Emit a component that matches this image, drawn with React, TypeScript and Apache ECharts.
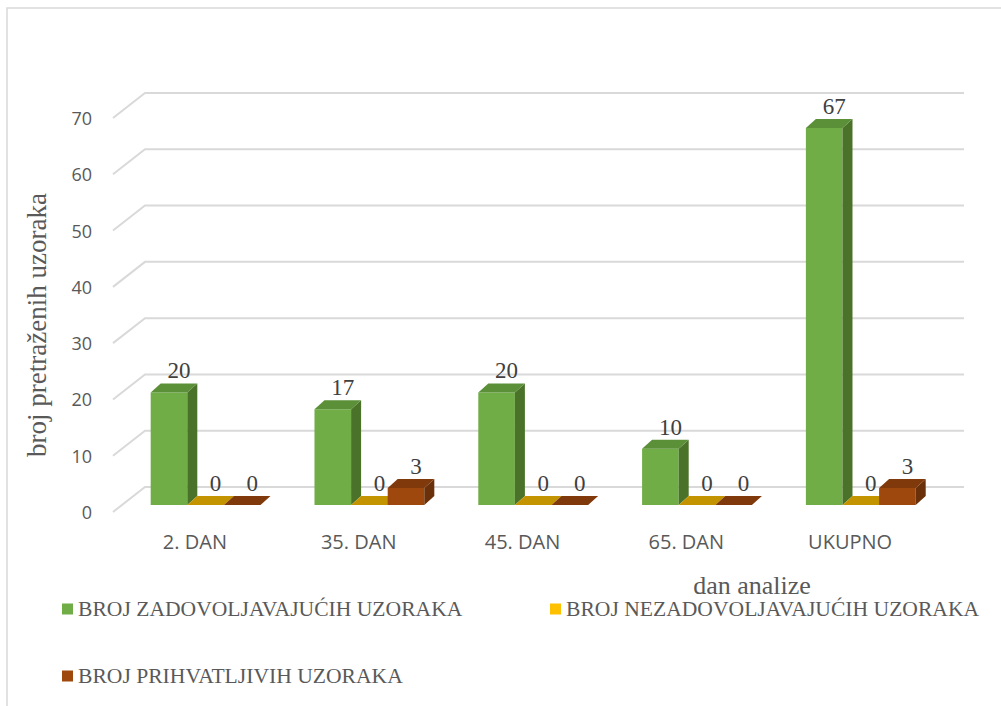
import React, { useEffect, useRef } from "react";
import * as echarts from "echarts";

const categories = ["2. DAN", "35. DAN", "45. DAN", "65. DAN", "UKUPNO"];
const zadovoljavajuci = [20, 17, 20, 10, 67];
const nezadovoljavajuci = [0, 0, 0, 0, 0];
const prihvatljivi = [0, 3, 0, 0, 3];
const yTicks = [0, 10, 20, 30, 40, 50, 60, 70];
const seriesNames = [
  "BROJ ZADOVOLJAVAJUĆIH UZORAKA",
  "BROJ NEZADOVOLJAVAJUĆIH UZORAKA",
  "BROJ PRIHVATLJIVIH UZORAKA",
];
const yTitle = "broj pretraženih uzoraka";
const xTitle = "dan analize";

const palette = [
  { front: "#70AD47", top: "#5B8F38", side: "#4A7229" },
  { front: "#FFC000", top: "#C49300", side: "#A07800" },
  { front: "#9E480E", top: "#80390B", side: "#6A3009" },
];

const SERIF = "Liberation Serif";
const SANS = "Open Sans";

const GRID_DX = 32;
const GRID_DY = -25;
const BAR_SHIFT_X = 10.7;
const BAR_SHIFT_Y = -7;
const DEPTH_X = 10;
const DEPTH_Y = -9;

function barRenderer(sIdx: number) {
  const col = palette[sIdx];
  return (params: any, api: any) => {
    const c = api.value(0);
    const v = api.value(1);
    const p = api.coord([c, v]);
    const b = api.coord([c, 0]);
    const band = api.size([1, 0])[0];
    const bw = band * 0.2235;
    const x0 = p[0] - 1.5 * bw + BAR_SHIFT_X + sIdx * bw;
    const yTop = p[1] + BAR_SHIFT_Y;
    const yBot = b[1] + BAR_SHIFT_Y;
    const children: any[] = [];
    if (yBot - yTop > 0.5) {
      children.push({
        type: "rect",
        shape: { x: x0, y: yTop, width: bw, height: yBot - yTop },
        style: { fill: col.front },
      });
      children.push({
        type: "polygon",
        shape: {
          points: [
            [x0 + bw, yTop],
            [x0 + bw + DEPTH_X, yTop + DEPTH_Y],
            [x0 + bw + DEPTH_X, yBot + DEPTH_Y],
            [x0 + bw, yBot],
          ],
        },
        style: { fill: col.side },
      });
    }
    children.push({
      type: "polygon",
      shape: {
        points: [
          [x0, yTop],
          [x0 + DEPTH_X, yTop + DEPTH_Y],
          [x0 + bw + DEPTH_X, yTop + DEPTH_Y],
          [x0 + bw, yTop],
        ],
      },
      style: { fill: col.top },
    });
    children.push({
      type: "text",
      x: x0 + bw / 2 + 10,
      y: yTop - 10,
      style: {
        text: String(v),
        textAlign: "center",
        textVerticalAlign: "bottom",
        fontFamily: SERIF,
        fontSize: 23,
        fill: "#404040",
      },
    });
    return { type: "group", children };
  };
}

export default function App() {
  const ref = useRef<HTMLDivElement>(null);
  useEffect(() => {
    if (!ref.current) return;
    const chart = echarts.init(ref.current, null, { renderer: "svg" });
    const seriesData = [zadovoljavajuci, nezadovoljavajuci, prihvatljivi];
    const legendPos = [
      { left: 62, top: 598 },
      { left: 550, top: 598 },
      { left: 62, top: 665 },
    ];
    const option: any = {
      animation: false,
      backgroundColor: "#ffffff",
      grid: { left: 113, right: 69, top: 118, bottom: 194 },
      xAxis: {
        type: "category",
        data: categories,
        axisLine: { show: false },
        axisTick: { show: false },
        splitLine: { show: false },
        axisLabel: {
          color: "#595959",
          fontFamily: SANS,
          fontSize: 20,
          margin: 19,
        },
      },
      yAxis: {
        type: "value",
        min: 0,
        max: 70,
        interval: 10,
        axisLine: { show: false },
        axisTick: { show: false },
        splitLine: { show: false },
        axisLabel: {
          color: "#595959",
          fontFamily: SANS,
          fontSize: 18,
          margin: 21,
        },
      },
      legend: seriesNames.map((n, i) => ({
        data: [{ name: n, icon: "rect", itemStyle: { color: palette[i].front } }],
        left: legendPos[i].left,
        top: legendPos[i].top,
        padding: 0,
        itemWidth: 11,
        itemHeight: 11,
        selectedMode: false,
        textStyle: {
          color: "#595959",
          fontFamily: SERIF,
          fontSize: 21.6,
        },
      })),
      graphic: [
        {
          type: "rect",
          shape: { x: 7, y: 8, width: 1200, height: 900 },
          style: { fill: "none", stroke: "#D9D9D9", lineWidth: 1.5 },
          silent: true,
        },
        {
          type: "text",
          x: 37,
          y: 325,
          rotation: Math.PI / 2,
          style: {
            text: yTitle,
            textAlign: "center",
            textVerticalAlign: "middle",
            fontFamily: SERIF,
            fontSize: 27,
            fill: "#595959",
          },
        },
        {
          type: "text",
          x: 752,
          y: 585,
          style: {
            text: xTitle,
            textAlign: "center",
            textVerticalAlign: "middle",
            fontFamily: SERIF,
            fontSize: 26,
            fill: "#595959",
          },
        },
      ],
      series: [
        {
          type: "custom",
          name: "grid",
          silent: true,
          z: 1,
          data: yTicks.map((t) => [categories[0], t]),
          renderItem: (params: any, api: any) => {
            const v = api.value(1);
            const p0 = api.coord([0, v]);
            const p4 = api.coord([categories.length - 1, v]);
            const band = api.size([1, 0])[0];
            const left = p0[0] - band / 2;
            const right = p4[0] + band / 2;
            return {
              type: "polyline",
              shape: {
                points: [
                  [left, p0[1]],
                  [left + GRID_DX, p0[1] + GRID_DY],
                  [right + GRID_DX, p0[1] + GRID_DY],
                ],
              },
              style: { stroke: "#D9D9D9", lineWidth: 2, fill: "none" },
            };
          },
        },
        ...seriesNames.map((n, i) => ({
          type: "custom",
          name: n,
          z: 2 + i,
          itemStyle: { color: palette[i].front },
          data: seriesData[i].map((v, k) => [categories[k], v]),
          renderItem: barRenderer(i),
        })),
      ],
    };
    chart.setOption(option);
    return () => chart.dispose();
  }, []);
  return (
    <div
      ref={ref}
      style={{ position: "absolute", left: 0, top: 0, width: 1001, height: 706 }}
    />
  );
}
